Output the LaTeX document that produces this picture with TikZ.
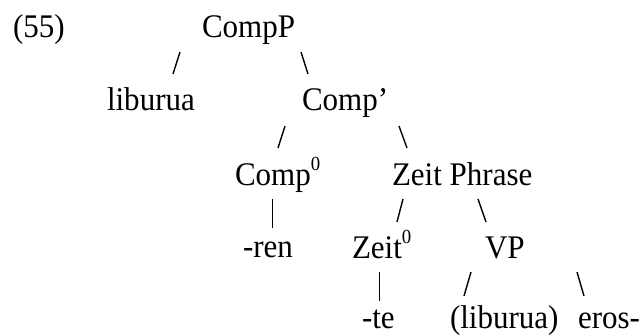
\documentclass[tikz,border=0pt]{standalone}
\usepackage{fontspec}
\setmainfont[FakeStretch=0.94]{Liberation Serif}
\newcommand{\zsup}{\raisebox{14.5pt}{\fontsize{20}{20}\selectfont 0}}
\tikzset{
  lbl/.style={anchor=base west, inner sep=0pt, outer sep=0pt, font=\fontsize{33}{38}\selectfont},
  stroke/.style={line width=1.4pt, line cap=butt},
  bar/.style={line width=1pt}
}
\begin{document}
\begin{tikzpicture}[x=1pt,y=-1pt]
\useasboundingbox (0,0) rectangle (643,335);
% texts
\node[lbl] (ex)    at (13,37)  {(55)};
\node[lbl] (cp)    at (202,37) {CompP};
\node[lbl] (lib)   at (107,110) {liburua};
\node[lbl] (cbar)  at (302,110) {Comp’};
\node[lbl] (c0)    at (235,185) {Comp\zsup};
\node[lbl] (zp)    at (392,185) {Zeit Phrase};
\node[lbl] (ren)   at (243,257) {-ren};
\node[lbl] (z0)    at (352,258) {Zeit\zsup};
\node[lbl] (vp)    at (485,258) {VP};
\node[lbl] (te)    at (362,328) {-te};
\node[lbl] (lib2)  at (450,328) {(liburua)};
\node[lbl] (eros)  at (578,328) {eros-};
% stroke end points
\coordinate (a1) at (180,52);  \coordinate (a2) at (173,74);
\coordinate (b1) at (301,52);  \coordinate (b2) at (308,74);
\coordinate (c1) at (285,126); \coordinate (c2) at (278,148);
\coordinate (d1) at (399,126); \coordinate (d2) at (407,148);
\coordinate (e1) at (272,199); \coordinate (e2) at (272,228);
\coordinate (f1) at (403,199); \coordinate (f2) at (397,222);
\coordinate (g1) at (478,199); \coordinate (g2) at (486,222);
\coordinate (h1) at (379,272); \coordinate (h2) at (379,301);
\coordinate (i1) at (471,272); \coordinate (i2) at (464,296);
\coordinate (j1) at (577,272); \coordinate (j2) at (584,296);
\draw[stroke] (a1) -- (a2);
\draw[stroke] (b1) -- (b2);
\draw[stroke] (c1) -- (c2);
\draw[stroke] (d1) -- (d2);
\draw[bar] (e1) -- (e2);
\draw[stroke] (f1) -- (f2);
\draw[stroke] (g1) -- (g2);
\draw[bar] (h1) -- (h2);
\draw[stroke] (i1) -- (i2);
\draw[stroke] (j1) -- (j2);
\end{tikzpicture}
\end{document}
